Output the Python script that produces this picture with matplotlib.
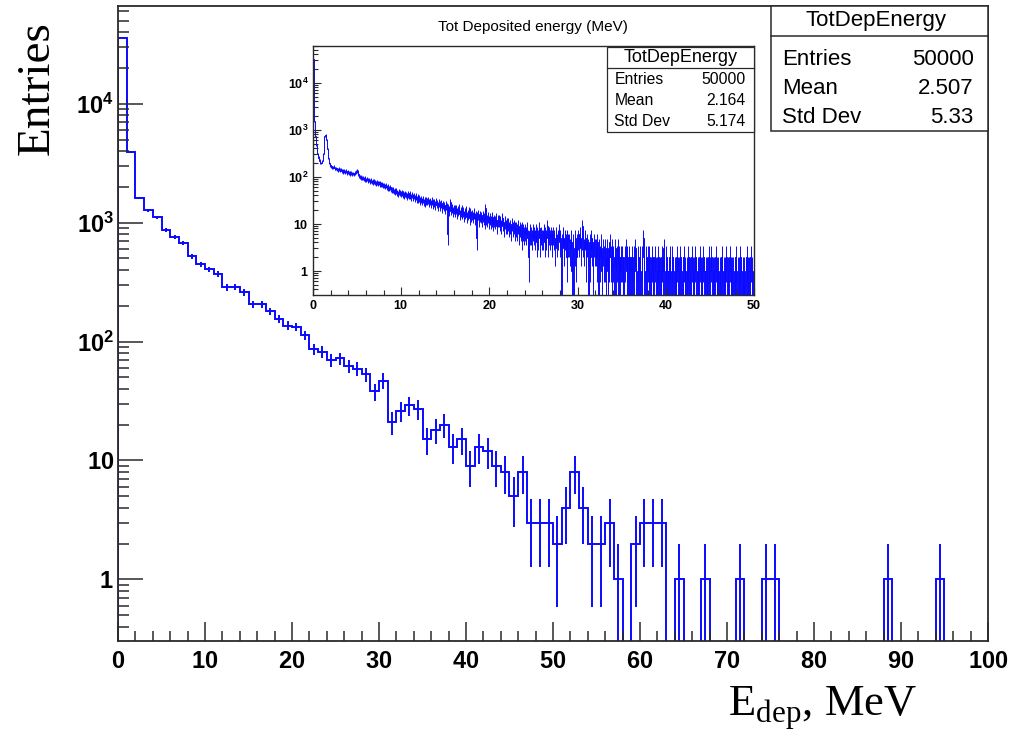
import numpy as np
import matplotlib
matplotlib.use('Agg')
import matplotlib.pyplot as plt
from matplotlib.ticker import FixedLocator, LogLocator, NullFormatter, FixedFormatter, MultipleLocator
from matplotlib.patches import Rectangle
from matplotlib.lines import Line2D

plt.rcParams['mathtext.fontset'] = 'custom'
plt.rcParams['mathtext.rm'] = 'Liberation Serif'
plt.rcParams['mathtext.bf'] = 'Liberation Sans:bold'
plt.rcParams['font.family'] = ['Liberation Sans', 'DejaVu Sans']

# ---------------- data ----------------
# main histogram: 1 MeV bins from 0 to 100 MeV
main_bin_width = 1.0
main_counts = [
    35800, 3950, 1610, 1265, 1110, 867, 760, 673, 520, 447,
    407, 369, 285, 290, 259, 206, 206, 179, 156, 136,
    133, 113, 86, 82, 70, 72, 62, 59, 53, 38,
    47, 21, 26, 29, 27, 15, 18, 20, 13, 15,
    9, 13, 12, 9, 8, 5, 8, 3, 3, 3,
    2, 4, 8, 4, 2, 2, 3, 1, 0, 2,
    3, 3, 3, 0, 1, 0, 0, 1, 0, 0,
    0, 1, 0, 0, 1, 1, 0, 0, 0, 0,
    0, 0, 0, 0, 0, 0, 0, 0, 1, 0,
    0, 0, 0, 0, 1, 0, 0, 0, 0, 0,
]
main_xlim = (0, 100)
main_ylim = (0.303, 67000)
main_xticks = [0, 10, 20, 30, 40, 50, 60, 70, 80, 90, 100]
main_yticks = [1, 10, 100, 1000, 10000]
ytick_labels = [r'$\mathbf{1}$', r'$\mathbf{10}$', r'$\mathbf{10^{2}}$',
                r'$\mathbf{10^{3}}$', r'$\mathbf{10^{4}}$']

main_stats_title = 'TotDepEnergy'
main_stats_names = ['Entries', 'Mean', 'Std Dev']
main_stats_values = ['50000', '2.507', '5.33']

# inset histogram: 0.1 MeV bins from 0 to 50 MeV
inset_bin_width = 0.1
inset_counts = [
    32000, 1500, 720, 480, 370, 300, 255, 220, 200, 196,
    215, 300, 520, 740, 770, 610, 390, 250, 196, 178,
    168, 160, 155, 163, 150, 148, 152, 144, 140, 146,
    138, 142, 133, 136, 128, 131, 125, 134, 122, 127,
    120, 124, 116, 119, 113, 118, 112, 121, 128, 134,
    126, 112, 104, 100, 97, 94, 96, 90, 92, 88,
    86, 89, 83, 85, 80, 84, 78, 81, 76, 79,
    77, 73, 76, 71, 74, 69, 72, 68, 70, 66,
    67, 63, 65, 60, 62, 58, 56, 59, 54, 52,
    53, 49, 51, 47, 50, 46, 44, 48, 45, 43,
    46, 42, 44, 40, 43, 41, 38, 42, 39, 44,
    40, 37, 41, 36, 39, 35, 38, 34, 36, 33,
    35, 31, 34, 30, 33, 29, 32, 28, 31, 30,
    32, 28, 30, 27, 31, 26, 29, 28, 25, 30,
    27, 24, 28, 25, 23, 27, 22, 26, 24, 21,
    25, 23, 6, 22, 19, 29, 20, 22, 18, 21,
    20, 18, 21, 17, 19, 22, 16, 18, 20, 17,
    18, 15, 17, 19, 14, 16, 18, 13, 17, 15,
    16, 14, 17, 13, 15, 5, 14, 16, 12, 15,
    14, 12, 15, 13, 11, 22, 13, 12, 14, 11,
    13, 11, 12, 14, 10, 12, 11, 13, 9, 12,
    12, 10, 11, 9, 13, 10, 8, 11, 9, 10,
    9, 10, 8, 9, 7, 10, 8, 9, 7, 8,
    8, 7, 9, 6, 8, 7, 5, 8, 7, 6,
    7, 6, 8, 5, 2, 7, 6, 6, 5, 7,
    6, 5, 7, 4, 6, 5, 8, 4, 6, 5,
    5, 7, 4, 6, 5, 9, 4, 6, 5, 6,
    5, 4, 6, 5, 3, 6, 4, 5, 7, 4,
    5, 0, 4, 6, 3, 5, 4, 2, 5, 4,
    4, 3, 5, 1, 4, 0, 3, 5, 2, 4,
    5, 4, 6, 3, 5, 9, 4, 3, 5, 2,
    4, 3, 0, 4, 2, 5, 3, 1, 4, 3,
    3, 2, 4, 0, 3, 2, 4, 1, 3, 2,
    2, 3, 1, 3, 0, 2, 4, 2, 1, 3,
    2, 0, 3, 1, 2, 3, 0, 2, 1, 2,
    2, 1, 0, 2, 3, 1, 2, 0, 2, 1,
    1, 2, 0, 2, 1, 3, 1, 0, 2, 1,
    2, 0, 1, 2, 5, 1, 0, 2, 1, 2,
    1, 2, 0, 1, 2, 1, 0, 2, 1, 1,
    0, 2, 1, 1, 0, 2, 1, 3, 1, 0,
    2, 1, 0, 1, 2, 0, 1, 2, 1, 0,
    1, 0, 2, 1, 1, 0, 2, 1, 0, 1,
    2, 1, 0, 1, 0, 2, 1, 1, 0, 2,
    1, 0, 1, 2, 1, 0, 1, 0, 2, 1,
    0, 1, 2, 1, 0, 1, 1, 0, 2, 1,
    1, 2, 0, 1, 1, 0, 2, 1, 0, 1,
    0, 1, 1, 2, 0, 1, 0, 1, 2, 0,
    1, 0, 2, 1, 0, 1, 1, 0, 1, 2,
    0, 1, 1, 0, 2, 1, 0, 1, 1, 0,
    1, 2, 0, 1, 1, 0, 2, 1, 0, 1,
]
inset_xlim = (0, 50)
inset_ylim = (0.304, 60500)
inset_xticks = [0, 10, 20, 30, 40, 50]
inset_title = 'Tot Deposited energy (MeV)'
inset_stats_title = 'TotDepEnergy'
inset_stats_names = ['Entries', 'Mean', 'Std Dev']
inset_stats_values = ['50000', '2.164', '5.174']

# ---------------- figure ----------------
W, H = 1026, 731
fig = plt.figure(figsize=(W / 100, H / 100), dpi=100)
fig.patch.set_facecolor('white')

def fx(x):
    return x / W

def fy(y):
    return 1 - y / H

HIST_COLOR = '#0a0aff'
FRAME_COLOR = '#2a2a2a'


def draw_hist(ax, counts, width, lw, floor):
    c = np.asarray(counts, dtype=float)
    edges = np.arange(len(c) + 1) * width
    shown = np.where(c > 0, c, floor)
    ax.stairs(shown, edges, color=HIST_COLOR, lw=lw, baseline=floor)
    centers = edges[:-1] + width / 2
    m = c > 0
    err = np.sqrt(c[m])
    lo = np.maximum(c[m] - err, floor)
    ax.vlines(centers[m], lo, c[m] + err, color=HIST_COLOR, lw=lw)


def style_axes(ax, lw):
    for s in ax.spines.values():
        s.set_color(FRAME_COLOR)
        s.set_linewidth(lw)


# main axes
ax = fig.add_axes([fx(118), fy(641), fx(988) - fx(118), fy(5.5) - fy(641)])
draw_hist(ax, main_counts, main_bin_width, 1.4, 1e-3)
ax.set_yscale('log')
ax.set_xlim(*main_xlim)
ax.set_ylim(*main_ylim)
style_axes(ax, 1.3)
ax.xaxis.set_major_locator(FixedLocator(main_xticks))
ax.xaxis.set_minor_locator(MultipleLocator(2))
ax.set_xticklabels([r'$\mathbf{%d}$' % t for t in main_xticks])
ax.yaxis.set_major_locator(FixedLocator(main_yticks))
ax.yaxis.set_major_formatter(FixedFormatter(ytick_labels))
ax.yaxis.set_minor_locator(LogLocator(base=10, subs=np.arange(2, 10), numticks=20))
ax.yaxis.set_minor_formatter(NullFormatter())
ax.tick_params(axis='x', which='major', direction='in', length=14, width=1.1,
               color=FRAME_COLOR, labelsize=17, pad=7, top=False)
ax.tick_params(axis='x', which='minor', direction='in', length=7, width=1.1,
               color=FRAME_COLOR, top=False)
ax.tick_params(axis='y', which='major', direction='in', length=18, width=1.1,
               color=FRAME_COLOR, labelsize=17, pad=3, right=False)
ax.tick_params(axis='y', which='minor', direction='in', length=8, width=1.1,
               color=FRAME_COLOR, right=False)

fig.text(fx(37), fy(88), 'Entries', rotation=90, ha='center', va='center',
         fontsize=34, family=['Liberation Serif', 'DejaVu Serif'])
fig.text(fx(728), fy(716), r'E$_{\rm dep}$, MeV', ha='left', va='baseline',
         fontsize=32, family=['Liberation Serif', 'DejaVu Serif'])

# main stats box
fig.add_artist(Rectangle((fx(771), fy(131)), fx(988) - fx(771), fy(5.7) - fy(131),
                         transform=fig.transFigure, facecolor='white',
                         edgecolor=FRAME_COLOR, lw=1.1, zorder=5))
fig.add_artist(Line2D([fx(771), fx(988)], [fy(36), fy(36)], transform=fig.transFigure,
                      color=FRAME_COLOR, lw=1.1, zorder=6))
fig.text(fx(876), fy(26), main_stats_title, ha='center', va='baseline',
         fontsize=16, zorder=7)
for name, val, yb in zip(main_stats_names, main_stats_values, [65, 94.3, 123.3]):
    fig.text(fx(782), fy(yb), name, ha='left', va='baseline', fontsize=16, zorder=7)
    fig.text(fx(973.5), fy(yb), val, ha='right', va='baseline', fontsize=16, zorder=7)

# inset axes
ax2 = fig.add_axes([fx(313), fy(295), fx(754) - fx(313), fy(46) - fy(295)])
ax2.set_zorder(8)
draw_hist(ax2, inset_counts, inset_bin_width, 0.7, 1e-3)
ax2.set_yscale('log')
ax2.set_xlim(*inset_xlim)
ax2.set_ylim(*inset_ylim)
style_axes(ax2, 1.0)
ax2.xaxis.set_major_locator(FixedLocator(inset_xticks))
ax2.xaxis.set_minor_locator(MultipleLocator(2))
ax2.set_xticklabels([r'$\mathbf{%d}$' % t for t in inset_xticks])
ax2.yaxis.set_major_locator(FixedLocator(main_yticks))
ax2.yaxis.set_major_formatter(FixedFormatter(ytick_labels))
ax2.yaxis.set_minor_locator(LogLocator(base=10, subs=np.arange(2, 10), numticks=20))
ax2.yaxis.set_minor_formatter(NullFormatter())
ax2.tick_params(axis='both', which='major', direction='in', length=6, width=0.8,
                color=FRAME_COLOR, labelsize=9, pad=3, top=False, right=False)
ax2.tick_params(axis='both', which='minor', direction='in', length=3.5, width=0.8,
                color=FRAME_COLOR, top=False, right=False)

fig.text(fx(533), fy(30.7), inset_title, ha='center', va='baseline', fontsize=11, zorder=9)

fig.add_artist(Rectangle((fx(607), fy(131.7)), fx(754) - fx(607), fy(46.7) - fy(131.7),
                         transform=fig.transFigure, facecolor='white',
                         edgecolor=FRAME_COLOR, lw=0.9, zorder=10))
fig.add_artist(Line2D([fx(607), fx(754)], [fy(67.7), fy(67.7)], transform=fig.transFigure,
                      color=FRAME_COLOR, lw=0.9, zorder=11))
fig.text(fx(680.5), fy(61.7), inset_stats_title, ha='center', va='baseline',
         fontsize=13, zorder=12)
for name, val, yb in zip(inset_stats_names, inset_stats_values, [84, 105, 126]):
    fig.text(fx(614.5), fy(yb), name, ha='left', va='baseline', fontsize=11.3, zorder=12)
    fig.text(fx(745.7), fy(yb), val, ha='right', va='baseline', fontsize=11.3, zorder=12)

fig.savefig('out.png', dpi=100, facecolor='white')
